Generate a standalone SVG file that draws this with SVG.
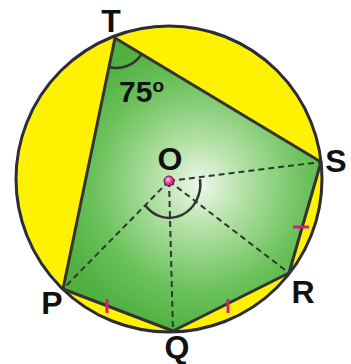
<svg xmlns="http://www.w3.org/2000/svg" width="351" height="364" viewBox="0 0 351 364">
<defs>
<radialGradient id="gGreen" gradientUnits="userSpaceOnUse" cx="200" cy="185" r="150">
<stop offset="0" stop-color="#eef8ea"/>
<stop offset="0.3" stop-color="#b3e0a6"/>
<stop offset="0.7" stop-color="#6cc25c"/>
<stop offset="1" stop-color="#4fb040"/>
</radialGradient>
<radialGradient id="gDot" cx="0.4" cy="0.35" r="0.7">
<stop offset="0" stop-color="#ffd0e6"/>
<stop offset="0.5" stop-color="#e0449a"/>
<stop offset="1" stop-color="#b01d6a"/>
</radialGradient>
<style>
.lbl{font-family:"Liberation Sans",Arial,sans-serif;font-weight:bold;font-size:32px;fill:#111}
.edge{stroke:#333;stroke-width:3;stroke-linejoin:round}
.dash{fill:none;stroke:#2a3a2a;stroke-width:2;stroke-dasharray:6 4}
.tick{stroke:#d0207a;stroke-width:3}
.arc{fill:none;stroke:#333;stroke-width:2.5}
</style>
</defs>
<g id="circle">
<circle cx="169" cy="179" r="153" fill="#fff200" stroke="#2b2b3a" stroke-width="3"/>
</g>
<g id="pentagon">
<polygon points="115,38 321,162 289,273 173,331 63,289" style="fill:url(#gGreen)" class="edge"/>
</g>
<g id="connectors">
<line class="dash" x1="169" y1="181" x2="321" y2="162"/>
<line class="dash" x1="169" y1="181" x2="289" y2="273"/>
<line class="dash" x1="169" y1="181" x2="173" y2="331"/>
<line class="dash" x1="169" y1="181" x2="63" y2="289"/>
<path class="arc" d="M 200 179 A 31 34 0 0 1 145 205"/>
<path class="arc" d="M 109 67 A 30 30 0 0 0 141 55"/>
<line class="tick" x1="107" y1="299" x2="107" y2="313"/>
<line class="tick" x1="228" y1="299" x2="228" y2="313"/>
<line class="tick" x1="293" y1="227" x2="309" y2="227"/>
</g>
<g id="O">
<circle cx="169" cy="181" r="5" fill="url(#gDot)" stroke="#6a1040" stroke-width="1"/>
<text class="lbl" x="170" y="170" text-anchor="middle">O</text>
</g>
<g id="T"><text class="lbl" x="111" y="32" text-anchor="middle">T</text></g>
<g id="S"><text class="lbl" x="336" y="172" text-anchor="middle">S</text></g>
<g id="R"><text class="lbl" x="303" y="303" text-anchor="middle">R</text></g>
<g id="P"><text class="lbl" x="52" y="314" text-anchor="middle">P</text></g>
<g id="Q"><text class="lbl" x="177" y="358" text-anchor="middle">Q</text></g>
<g id="angle"><text class="lbl" x="119" y="102" style="font-size:30px">75<tspan dy="-10" style="font-size:19px">o</tspan></text></g>
</svg>
